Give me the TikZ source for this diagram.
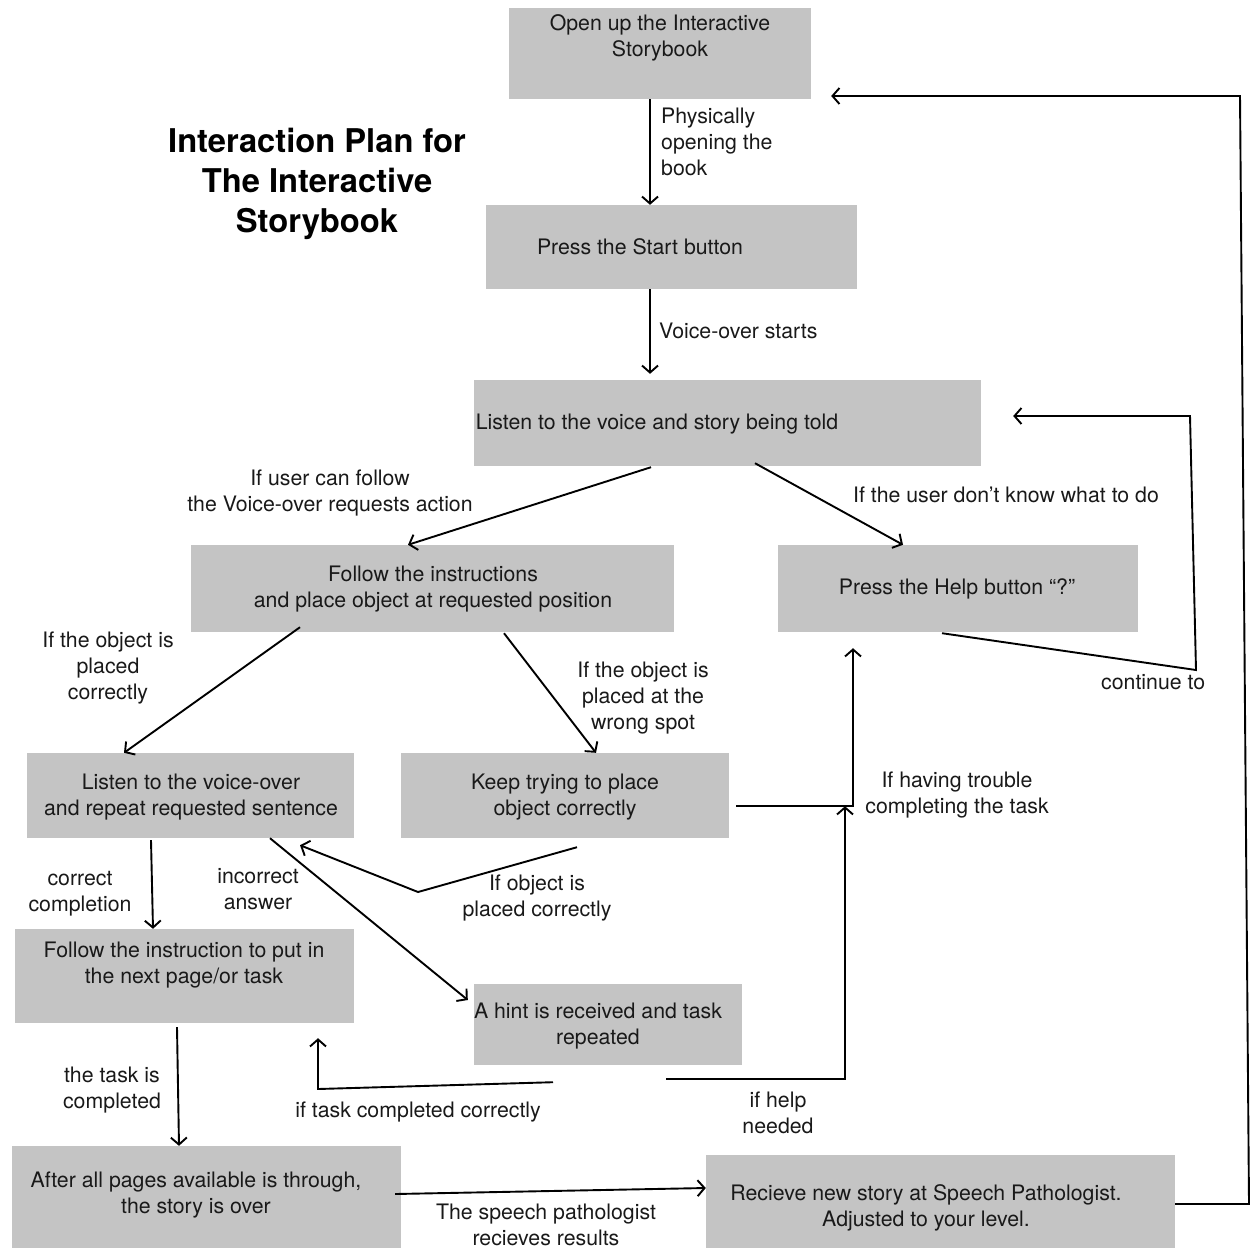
\documentclass[tikz,border=0pt]{standalone}
\usepackage{fontspec}
\setmainfont{TeX Gyre Heros}
\usetikzlibrary{arrows.meta}
\definecolor{boxgray}{RGB}{196,196,196}
\begin{document}
\begin{tikzpicture}[x=1pt,y=-1pt,
  box/.style={fill=boxgray, draw=none, inner sep=0pt},
  txt/.style={font=\fontsize{21.3}{26}\selectfont, align=center, inner sep=0pt, text=black!90, yshift=-2.5pt},
  lefttxt/.style={txt, align=left, anchor=west},
  conn/.style={line width=1.9pt, -{Straight Barb[length=7pt,width=16pt]}},
  plainline/.style={line width=1.9pt}]
\useasboundingbox (0,0) rectangle (1252,1248);
% boxes
\node[box, minimum width=302pt, minimum height=91pt] (open) at (660,53.5) {};
\node[box, minimum width=371pt, minimum height=84pt] (start) at (671.5,247) {};
\node[box, minimum width=507pt, minimum height=86pt] (listen) at (727.5,423) {};
\node[box, minimum width=483pt, minimum height=87pt] (follow) at (432.5,588.5) {};
\node[box, minimum width=360pt, minimum height=87pt] (help) at (958,588.5) {};
\node[box, minimum width=327pt, minimum height=85pt] (listenvo) at (190.5,795.5) {};
\node[box, minimum width=328pt, minimum height=85pt] (keep) at (565,795.5) {};
\node[box, minimum width=339pt, minimum height=94pt] (followin) at (184.5,976) {};
\node[box, minimum width=268pt, minimum height=81pt] (hint) at (608,1024.5) {};
\node[box, minimum width=389pt, minimum height=102pt] (after) at (206.5,1197) {};
\node[box, minimum width=469pt, minimum height=93pt] (recv) at (940.5,1201.5) {};
% box texts
\node[txt] (opent) at (660,35) {Open up the Interactive\\Storybook};
\node[txt] (startt) at (640,244) {Press the Start button};
\node[txt] (listent) at (657,422) {Listen to the voice and story being told};
\node[txt] (followt) at (433,587) {Follow the instructions\\and place object at requested position};
\node[txt] (helpt) at (957,586) {Press the Help button “?”};
\node[txt] (listenvot) at (191,795) {Listen to the voice-over\\and repeat requested sentence};
\node[txt] (keept) at (565,795) {Keep trying to place\\object correctly};
\node[txt] (followint) at (184,963) {Follow the instruction to put in\\the next page/or task};
\node[txt] (hintt) at (598,1024) {A hint is received and task\\repeated};
\node[txt] (aftert) at (196,1193) {After all pages available is through,\\the story is over};
\node[txt] (recvt) at (926,1205) {Recieve new story at Speech Pathologist.\\Adjusted to your level.};
% title
\node[txt, font=\fontsize{32.7}{40}\selectfont\bfseries, text=black, yshift=-1pt] (title) at (317,180) {Interaction Plan for\\The Interactive\\Storybook};
% labels
\node[lefttxt] (lphys) at (661,139) {Physically\\opening the\\book};
\node[lefttxt] (lvoice) at (659,328) {Voice-over starts};
\node[txt] (lcan) at (330,491) {If user can follow\\the Voice-over requests action};
\node[lefttxt] (ldont) at (853,492) {If the user don’t know what to do};
\node[txt] (lplaced) at (108,666) {If the object is\\placed\\correctly};
\node[txt] (lwrong) at (643,696) {If the object is\\placed at the\\wrong spot};
\node[lefttxt] (lcont) at (1101,680) {continue to};
\node[txt] (ltrouble) at (957,793) {If having trouble\\completing the task};
\node[txt] (lcorrect) at (80,891) {correct\\completion};
\node[txt] (lincorrect) at (258,887) {incorrect\\answer};
\node[txt] (lobj) at (537,896) {If object is\\placed correctly};
\node[txt] (ltask) at (112,1088) {the task is\\completed};
\node[txt] (ltaskok) at (418,1110) {if task completed correctly};
\node[txt] (lhelp) at (778,1110) {if help\\needed};
\node[txt] (lspeech) at (546,1222) {The speech pathologist\\recieves results};
% helper coordinates
\coordinate (c1) at (1196,670);
\coordinate (c2) at (1190,416);
\coordinate (c3) at (418,892);
\coordinate (c4) at (318,1089);
\coordinate (c5) at (1249,1204);
\coordinate (c6) at (1240,96);
% connectors
\draw[conn] ([xshift=-10pt]open.south) -- ([xshift=-21.5pt]start.north);
\draw[conn, shorten >=6pt] ([xshift=-21.5pt]start.south) -- ([xshift=-77.5pt]listen.north);
\draw[conn] ([xshift=-76.5pt,yshift=-1pt]listen.south) -- ([xshift=-24.5pt]follow.north);
\draw[conn] ([xshift=27.5pt,yshift=3pt]listen.south) -- ([xshift=-55pt]help.north);
\draw[conn] ([xshift=-16pt,yshift=-1pt]help.south) -- (c1) -- (c2) -- ([xshift=32pt,yshift=7pt]listen.east);
\draw[conn] ([xshift=-132.5pt,yshift=5pt]follow.south) -- ([xshift=-66.5pt]listenvo.north);
\draw[conn] ([xshift=71.5pt,yshift=-1pt]follow.south) -- ([xshift=31pt]keep.north);
\draw[conn] ([xshift=7pt,yshift=-10.5pt]keep.east) -| ([xshift=-105pt,yshift=-16pt]help.south);
\draw[conn] ([xshift=12pt,yshift=-9pt]keep.south) -- (c3) -- ([xshift=109.5pt,yshift=-7pt]listenvo.south);
\draw[conn] ([xshift=79.5pt]listenvo.south) -- ([xshift=-6pt,yshift=24.5pt]hint.west);
\draw[conn] ([xshift=-39.5pt,yshift=-2pt]listenvo.south) -- ([xshift=-31.5pt]followin.north);
\draw[conn] ([xshift=-7.5pt,yshift=-4pt]followin.south) -- ([xshift=-27.5pt]after.north);
\draw[conn] ([xshift=-55pt,yshift=-17pt]hint.south) -- (c4) -- ([xshift=133.5pt,yshift=-15pt]followin.south);
\draw[conn] ([xshift=58pt,yshift=-14pt]hint.south) -| ([xshift=-113pt,yshift=-174pt]help.south);
\draw[conn] ([xshift=-6pt,yshift=3pt]after.east) -- ([yshift=13.5pt]recv.west);
\draw[conn] ([yshift=-2.5pt]recv.east) -- (c5) -- (c6) -- ([xshift=20pt,yshift=-42.5pt]open.east);
\end{tikzpicture}
\end{document}
